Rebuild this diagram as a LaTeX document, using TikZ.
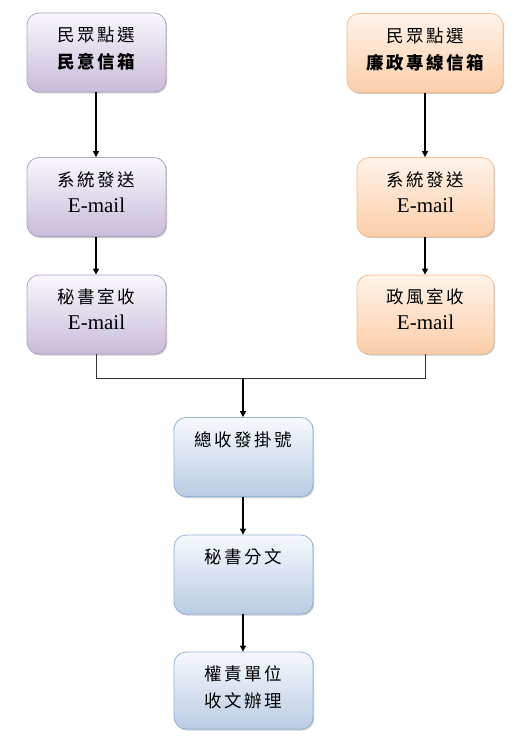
\documentclass[tikz,border=0pt]{standalone}
\usepackage{fontspec}
\setmainfont{Liberation Serif}
\newfontfamily\cjk{Noto Sans CJK TC}
\usetikzlibrary{arrows.meta,shadows}
\newcommand\ks{\kern2.6pt}
\begin{document}
\begin{tikzpicture}[x=1pt,y=-1pt,
  box/.style={rounded corners=12pt, minimum width=139pt, minimum height=79pt,
    inner sep=0pt,
    drop shadow={shadow xshift=1.2pt, shadow yshift=-1.5pt, opacity=0.35, fill=black!60}},
  purplebox/.style={box, draw={rgb,255:red,178;green,162;blue,199}, line width=0.8pt,
    top color={rgb,255:red,249;green,247;blue,252}, bottom color={rgb,255:red,200;green,188;blue,218}},
  orangebox/.style={box, draw={rgb,255:red,250;green,191;blue,143}, line width=0.8pt,
    top color={rgb,255:red,255;green,243;blue,234}, bottom color={rgb,255:red,252;green,206;blue,168}},
  bluebox/.style={box, draw={rgb,255:red,149;green,179;blue,215}, line width=0.8pt,
    top color={rgb,255:red,246;green,249;blue,253}, bottom color={rgb,255:red,186;green,204;blue,228}},
  cj/.style={anchor=base, inner sep=0pt, font=\cjk\fontsize{17.5}{20}\selectfont},
  cjb/.style={cj, font=\cjk\bfseries\fontsize{17.5}{20}\selectfont},
  em/.style={anchor=base, inner sep=0pt, font=\fontsize{21}{24}\selectfont},
  arr/.style={line width=1.1pt, -{Triangle[length=6pt,width=6pt]}},
  thin/.style={line width=0.6pt, draw=black!80}
]
\useasboundingbox (0,0) rectangle (521,751);
\fill[white] (0,0) rectangle (521,751);

\node[purplebox] (l1) at (96.5,52.5) {};
\node[purplebox] (l2) at (96.5,197) {};
\node[purplebox] (l3) at (96.5,314.5) {};
\node[orangebox, minimum width=156pt] (r1) at (425,53) {};
\node[orangebox, minimum width=137pt] (r2) at (425.5,197) {};
\node[orangebox, minimum width=137pt] (r3) at (425.5,314.5) {};
\node[bluebox] (c1) at (243.5,457) {};
\node[bluebox] (c2) at (243.5,574.5) {};
\node[bluebox, minimum height=77pt] (c3) at (243.5,690.5) {};

\node[cj]  (l1a) at ([yshift=-29pt]l1.north) {民\ks 眾\ks 點\ks 選};
\node[cjb] (l1b) at ([yshift=-56pt]l1.north) {民\ks 意\ks 信\ks 箱};
\node[cj]  (l2a) at ([yshift=-29pt]l2.north) {系\ks 統\ks 發\ks 送};
\node[em]  (l2b) at ([yshift=-55pt]l2.north) {E-mail};
\node[cj]  (l3a) at ([yshift=-29pt]l3.north) {秘\ks 書\ks 室\ks 收};
\node[em]  (l3b) at ([yshift=-55pt]l3.north) {E-mail};

\node[cj]  (r1a) at ([yshift=-29pt]r1.north) {民\ks 眾\ks 點\ks 選};
\node[cjb] (r1b) at ([yshift=-56pt]r1.north) {廉\ks 政\ks 專\ks 線\ks 信\ks 箱};
\node[cj]  (r2a) at ([yshift=-29pt]r2.north) {系\ks 統\ks 發\ks 送};
\node[em]  (r2b) at ([yshift=-55pt]r2.north) {E-mail};
\node[cj]  (r3a) at ([yshift=-29pt]r3.north) {政\ks 風\ks 室\ks 收};
\node[em]  (r3b) at ([yshift=-55pt]r3.north) {E-mail};

\node[cj]  (c1a) at ([yshift=-29pt]c1.north) {總\ks 收\ks 發\ks 掛\ks 號};
\node[cj]  (c2a) at ([yshift=-29pt]c2.north) {秘\ks 書\ks 分\ks 文};
\node[cj]  (c3a) at ([yshift=-29pt]c3.north) {權\ks 責\ks 單\ks 位};
\node[cj]  (c3b) at ([yshift=-56pt]c3.north) {收\ks 文\ks 辦\ks 理};

\coordinate (jl) at (96,378);
\coordinate (jr) at (425,378);
\coordinate (jc) at (243,378);

\draw[arr] (l1.south -| jl) -- (l2.north -| jl);
\draw[arr] (l2.south -| jl) -- (l3.north -| jl);
\draw[arr] (r1.south -| jr) -- (r2.north -| jr);
\draw[arr] (r2.south -| jr) -- (r3.north -| jr);
\draw[thin] (l3.south -| jl) -- (jl) -- (jr) -- (r3.south -| jr);
\draw[arr] (jc) -- (c1.north -| jc);
\draw[arr] (c1.south -| jc) -- (c2.north -| jc);
\draw[arr] (c2.south -| jc) -- (c3.north -| jc);
\end{tikzpicture}
\end{document}
